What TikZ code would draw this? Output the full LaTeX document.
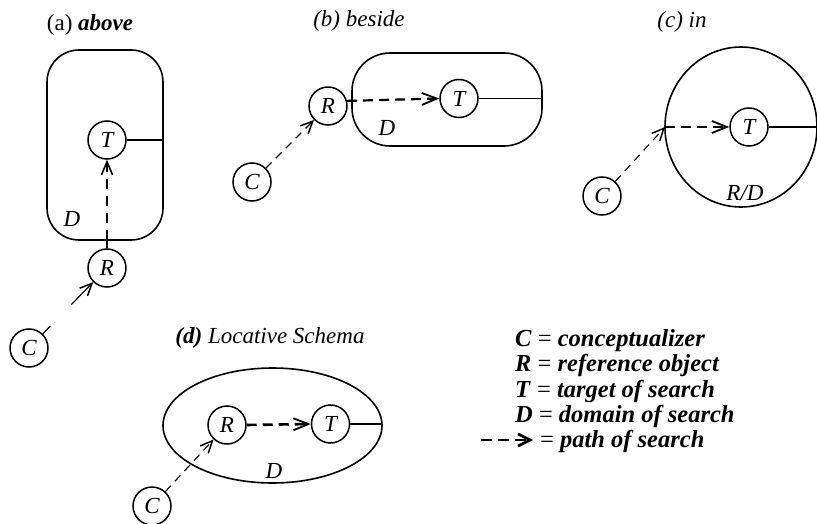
\documentclass[tikz,border=0pt]{standalone}
\usepackage{fontspec}
\setmainfont{Liberation Serif}
\usetikzlibrary{arrows.meta,shapes.geometric}
\begin{document}
\begin{tikzpicture}[x=1pt,y=-1pt,
  outline/.style={draw, line width=1.6pt, inner sep=0pt, outer sep=0pt},
  obj/.style={circle, draw, line width=1.5pt, minimum size=38pt, inner sep=0pt, font=\fontsize{23}{23}\selectfont\itshape},
  lab/.style={inner sep=0pt, font=\fontsize{23}{23}\selectfont\itshape},
  ttl/.style={inner sep=0pt, font=\fontsize{23}{23}\selectfont},
  leg/.style={inner sep=0pt, anchor=base west, font=\fontsize{24.5}{24.5}\selectfont\bfseries\itshape},
  look/.style={line width=1.1pt, dash pattern=on 8pt off 6pt, -{Straight Barb[length=12pt,width=11pt,line width=1.5pt]}},
  search/.style={line width=2.2pt, dash pattern=on 10pt off 6pt, -{Straight Barb[length=15pt,width=12pt,line width=1.8pt]}},
  edgeline/.style={line width=1.7pt},
]
\useasboundingbox (0,0) rectangle (817,524);

% ---------- (a) above ----------
\node[ttl] (ta) at (90,25) {(a) \textbf{\textit{above}}};
\node[outline, rectangle, rounded corners=32pt, minimum width=116pt, minimum height=190pt] (Da) at (105,145) {};
\node[obj] (Ta) at (107,140) {T};
\node[obj] (Ra) at (107,268) {R};
\node[obj] (Ca) at (29,348) {C};
\node[lab] (la) at (72,219) {D};
\draw[edgeline] (Ta.east) -- (Da.east |- Ta.east);
\draw[line width=1.6pt] (Ra.north) -- (Ra.north |- Da.south);
\draw[search, line width=1.6pt, dash pattern=on 10pt off 7pt, -{Straight Barb[length=13pt,width=11pt,line width=1.6pt]}] (Ra.north |- Da.south) -- (Ta.south);
\draw[look, dash pattern=on 11pt off 30pt on 60pt] (Ca) -- (Ra);

% ---------- (b) beside ----------
\node[ttl] (tb) at (359,21) {\itshape (b) beside};
\node[outline, rectangle, rounded corners=38pt, minimum width=190pt, minimum height=93pt] (Db) at (447,99.5) {};
\node[obj] (Rb) at (328,106) {R};
\node[obj] (Tb) at (459,98.5) {T};
\node[obj] (Cb) at (252,182) {C};
\node[lab] (lb) at (387,128) {D};
\draw[edgeline] (Tb.east) -- (Db.east |- Tb.east);
\draw[search] (Rb.15) -- (Tb.west);
\draw[look] (Cb) -- (Rb);

% ---------- (c) in ----------
\node[ttl] (tc) at (682,21.5) {\itshape (c) in};
\node[outline, ellipse, minimum width=152pt, minimum height=160pt] (Dc) at (741,127) {};
\node[obj] (Tc) at (749,127) {T};
\node[obj] (Cc) at (602,196) {C};
\node[lab] (lc) at (745,193) {R/D};
\draw[edgeline] (Tc.east) -- (Dc.east |- Tc.east);
\draw[search] (Dc.west) -- (Tc.west);
\draw[look] (Cc) -- (Dc.west);

% ---------- (d) Locative Schema ----------
\node[ttl] (td) at (270,338) {\itshape \textbf{(d)} Locative Schema};
\node[outline, ellipse, minimum width=219pt, minimum height=115pt] (Dd) at (272.5,425.5) {};
\node[obj] (Rd) at (227,425) {R};
\node[obj] (Td) at (330.5,424) {T};
\node[obj] (Cd) at (152,506) {C};
\node[lab] (ld) at (274,471) {D};
\draw[edgeline] (Td.east) -- (Dd.east |- Td.east);
\draw[search, line width=2.6pt] (Rd.east) -- (Td.west);
\draw[look] (Cd) -- (Rd);

% ---------- legend ----------
\node[leg] (l1) at (515,346) {C \textnormal{=} conceptualizer};
\node[leg] (l2) at (515,371.5) {R \textnormal{=} reference object};
\node[leg] (l3) at (515,397) {T \textnormal{=} target of search};
\node[leg] (l4) at (515,422) {D \textnormal{=} domain of search};
\node[leg] (l5) at (540,447.5) {\textnormal{=} path of search};
\coordinate (ls) at (481,440);
\coordinate (le) at (533,440);
\draw[search, line width=2.8pt, dash pattern=on 11pt off 6pt, -{Straight Barb[length=12pt,width=12pt,line width=2.6pt]}] (ls) -- (le);
\end{tikzpicture}
\end{document}
